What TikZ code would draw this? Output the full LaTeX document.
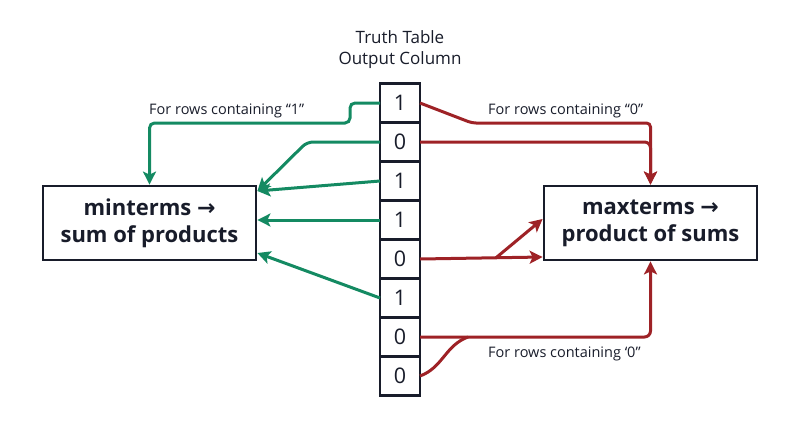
\documentclass[tikz,border=0pt]{standalone}
\usepackage{fontspec}
\setmainfont{Open Sans}
\newfontfamily\arrowfont{DejaVu Sans}
\usetikzlibrary{positioning,arrows.meta,calc}
\definecolor{MinGreen}{RGB}{20,138,98}
\definecolor{MaxRed}{RGB}{158,34,38}
\definecolor{InkNavy}{RGB}{24,28,42}
\tikzset{
  cellbox/.style={draw=InkNavy,fill=white,line width=2.4pt,outer sep=0pt,inner sep=0pt,
                  minimum width=40pt,minimum height=39pt,
                  font=\fontsize{21.5}{21}\selectfont,text=InkNavy},
  termbox/.style={draw=InkNavy,fill=white,line width=2.8pt,
                  minimum width=213pt,minimum height=74pt,align=center,
                  font=\bfseries\fontsize{22}{27}\selectfont,text=InkNavy},
  lbl/.style={font=\fontsize{14.5}{16}\selectfont,text=InkNavy,anchor=west,inner sep=0pt},
  garr/.style={-{Stealth[length=13pt,width=13pt,inset=3pt]},MinGreen,line width=3pt},
  rarr/.style={-{Stealth[length=13pt,width=13pt,inset=3pt]},MaxRed,line width=3pt},
}
\begin{document}
\begin{tikzpicture}[x=1pt,y=-1pt]
  \useasboundingbox (0,0) rectangle (800,447);
  % output column
  \node[cellbox] (c1) at (400,103) {1};
  \node[cellbox,below=0pt of c1] (c2) {0};
  \node[cellbox,below=0pt of c2] (c3) {1};
  \node[cellbox,below=0pt of c3] (c4) {1};
  \node[cellbox,below=0pt of c4] (c5) {0};
  \node[cellbox,below=0pt of c5] (c6) {1};
  \node[cellbox,below=0pt of c6] (c7) {0};
  \node[cellbox,below=0pt of c7] (c8) {0};
  \node[align=center,font=\fontsize{17}{21}\selectfont,text=InkNavy] (title) at (400,50)
    {Truth Table\\Output Column};
  % result boxes
  \node[termbox] (min) at (149.5,223) {minterms {\arrowfont\bfseries →}\\sum of products};
  \node[termbox] (max) at (650.5,223) {maxterms {\arrowfont\bfseries →}\\product of sums};
  % labels
  \node[lbl] (lone) at (149,111) {For rows containing “1”};
  \node[lbl] (lzero) at (488,111) {For rows containing “0”};
  \node[lbl] (lzerob) at (488,354) {For rows containing ‘0”};
  % green connectors
  \draw[garr,rounded corners=5pt] (c1.west) -| ($(c1.west)+(-30,20)$) -| (min.north);
  \draw[garr,rounded corners=6pt] (c2.west) -- ++(-73,0) -- ([yshift=32pt]min.east);
  \draw[garr] (c3.west) -- ([yshift=32pt]min.east);
  \draw[garr] (c4.west) -- (c4.west -| min.east);
  \draw[garr] (c6.west) -- ([yshift=-30pt]min.east);
  % red connectors
  \draw[rarr,rounded corners=4pt] (c1.east) -- ++(52,20) -| (max.north);
  \draw[rarr,rounded corners=6pt] (c2.east) -| (max.north);
  \draw[rarr] (c5.east) -- coordinate[pos=0.62] (split) ([yshift=-34pt]max.west);
  \draw[rarr] (split) -- ([yshift=4pt]max.west);
  \draw[rarr,rounded corners=6pt] (c7.east) -| (max.south);
  \coordinate (join) at ($(c7.east)+(48,0)$);
  \draw[MaxRed,line width=3pt] (c8.east) to[out=20,in=200] (join);
\end{tikzpicture}
\end{document}
